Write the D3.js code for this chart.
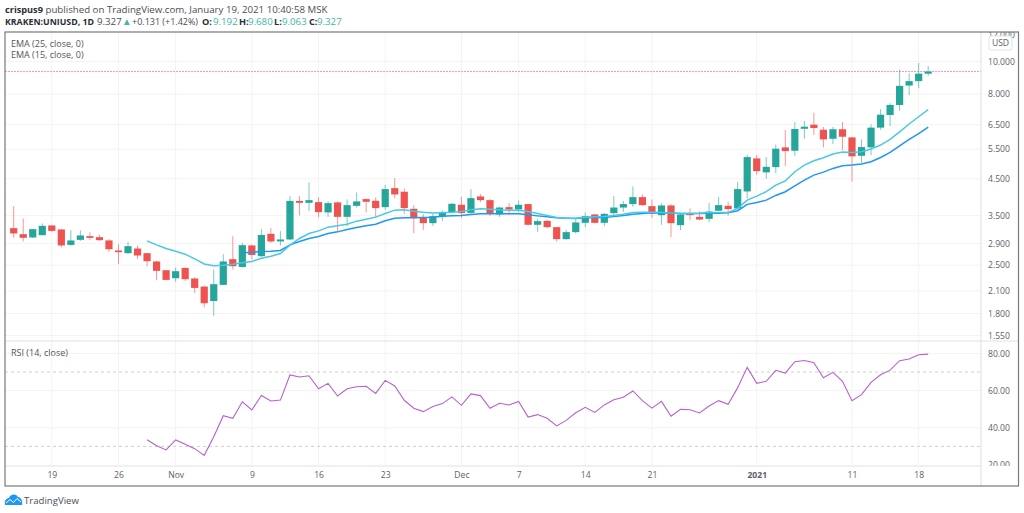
<!DOCTYPE html>
<html>
<head>
<meta charset="utf-8">
<script src="https://cdn.jsdelivr.net/npm/d3@7"></script>
<style>
    html, body { margin: 0; padding: 0; background: #fff; overflow: hidden; }
    svg { display: block; }
    text { font-family: "Open Sans", sans-serif; }
    .axis path { display: none; }
    .axis line { stroke: #e4e4e4; }
    .axis text { fill: #5d606b; font-size: 8.6px; }
    .head { font-size: 9.7px; fill: #4a4e59; }
    .bold { font-weight: 700; fill: #2a2e39; font-size: 9.2px; }
    .up { fill: #45b5aa; }
    .legend { font-size: 9px; fill: #555; }
</style>
</head>
<body>
<script>
const opens = [3.216, 3.087, 3.019, 3.066, 3.275, 3.188, 2.870, 2.970, 3.046, 3.025, 2.958, 2.763, 2.713, 2.800, 2.713, 2.564, 2.416, 2.288, 2.454, 2.284, 2.162, 1.960, 2.187, 2.604, 2.470, 2.859, 2.658, 3.094, 2.938, 2.978, 3.870, 3.820, 3.839, 3.579, 3.831, 3.473, 3.743, 3.918, 3.874, 3.710, 4.222, 4.120, 3.668, 3.459, 3.327, 3.482, 3.586, 3.770, 3.568, 3.990, 3.891, 3.530, 3.710, 3.652, 3.787, 3.290, 3.380, 3.238, 2.984, 3.130, 3.334, 3.530, 3.334, 3.561, 3.700, 3.787, 3.971, 3.735, 3.513, 3.753, 3.282, 3.554, 3.473, 3.426, 3.620, 3.743, 3.678, 4.128, 5.167, 4.700, 4.870, 5.570, 5.443, 6.320, 6.500, 6.280, 5.906, 6.300, 5.960, 5.260, 5.570, 6.370, 6.942, 7.432, 8.480, 8.738, 9.192];
const highs = [3.735, 3.435, 3.200, 3.320, 3.282, 3.194, 3.172, 3.166, 3.130, 3.080, 2.984, 2.884, 2.924, 2.859, 2.718, 2.574, 2.420, 2.460, 2.460, 2.300, 2.171, 2.428, 2.694, 3.046, 2.910, 2.878, 3.194, 3.216, 3.151, 3.998, 3.998, 4.390, 3.963, 3.857, 3.857, 3.910, 4.100, 3.936, 3.963, 4.318, 4.519, 4.213, 3.761, 3.537, 3.554, 3.625, 3.820, 3.980, 4.194, 4.053, 3.918, 3.717, 3.813, 3.883, 3.795, 3.419, 3.396, 3.245, 3.178, 3.419, 3.579, 3.537, 3.561, 4.007, 3.865, 4.270, 4.044, 3.910, 3.805, 3.780, 3.550, 3.678, 3.610, 3.820, 3.971, 3.847, 4.398, 5.300, 5.290, 5.214, 5.680, 6.267, 6.618, 6.664, 7.050, 6.397, 6.397, 6.618, 5.975, 5.880, 6.515, 7.217, 7.520, 9.439, 9.225, 9.880, 9.680];
const lows = [3.010, 2.938, 3.005, 3.060, 3.136, 2.820, 2.850, 2.950, 2.970, 2.950, 2.737, 2.517, 2.700, 2.610, 2.483, 2.257, 2.257, 2.232, 2.247, 2.070, 1.878, 1.770, 2.182, 2.428, 2.460, 2.600, 2.645, 2.910, 2.859, 2.964, 3.506, 3.610, 3.459, 3.473, 3.151, 3.260, 3.700, 3.579, 3.459, 3.642, 3.936, 3.544, 3.108, 3.178, 3.267, 3.380, 3.561, 3.450, 3.544, 3.839, 3.496, 3.473, 3.520, 3.586, 3.282, 3.136, 3.216, 2.938, 2.978, 3.100, 3.238, 3.320, 3.260, 3.506, 3.590, 3.717, 3.740, 3.442, 3.290, 3.025, 3.172, 3.390, 3.390, 3.350, 3.610, 3.496, 3.652, 3.936, 4.625, 4.500, 4.676, 4.904, 5.240, 5.906, 6.057, 5.570, 5.697, 5.468, 4.408, 5.015, 5.285, 6.280, 6.440, 7.150, 7.940, 8.330, 9.063];
const closes = [3.103, 3.011, 3.194, 3.267, 3.157, 2.859, 2.958, 3.060, 3.011, 2.964, 2.788, 2.731, 2.845, 2.670, 2.569, 2.405, 2.262, 2.400, 2.273, 2.142, 1.930, 2.197, 2.564, 2.483, 2.865, 2.680, 3.070, 2.938, 2.978, 3.870, 3.820, 3.891, 3.586, 3.813, 3.473, 3.761, 3.857, 3.847, 3.685, 4.194, 4.044, 3.685, 3.442, 3.327, 3.489, 3.579, 3.795, 3.561, 3.944, 3.891, 3.544, 3.700, 3.652, 3.770, 3.290, 3.373, 3.238, 2.984, 3.130, 3.343, 3.489, 3.334, 3.544, 3.700, 3.787, 3.971, 3.761, 3.554, 3.753, 3.327, 3.530, 3.513, 3.410, 3.600, 3.761, 3.660, 4.194, 5.214, 4.740, 4.880, 5.520, 5.431, 6.310, 6.410, 6.353, 5.880, 6.300, 5.987, 5.240, 5.581, 6.370, 6.955, 7.432, 8.462, 8.738, 9.196, 9.327];

// first value of each study sits on this candle
const ema15Start = 14;
const ema15 = [2.950, 2.870, 2.800, 2.750, 2.694, 2.610, 2.520, 2.490, 2.500, 2.517, 2.540, 2.564, 2.622, 2.658, 2.707, 2.865, 2.998, 3.100, 3.157, 3.238, 3.267, 3.304, 3.373, 3.419, 3.466, 3.554, 3.635, 3.642, 3.610, 3.586, 3.568, 3.579, 3.586, 3.600, 3.642, 3.668, 3.660, 3.642, 3.635, 3.635, 3.600, 3.554, 3.506, 3.459, 3.442, 3.442, 3.466, 3.473, 3.480, 3.506, 3.537, 3.579, 3.586, 3.586, 3.579, 3.568, 3.554, 3.554, 3.561, 3.579, 3.579, 3.579, 3.678, 3.891, 3.998, 4.120, 4.309, 4.437, 4.720, 4.937, 5.085, 5.190, 5.321, 5.394, 5.383, 5.406, 5.506, 5.658, 5.880, 6.190, 6.529, 6.860, 7.200];
const ema25Start = 24;
const ema25 = [2.720, 2.730, 2.744, 2.750, 2.763, 2.870, 2.938, 2.998, 3.040, 3.100, 3.136, 3.188, 3.230, 3.267, 3.304, 3.380, 3.442, 3.450, 3.450, 3.459, 3.466, 3.489, 3.496, 3.506, 3.530, 3.544, 3.544, 3.544, 3.544, 3.544, 3.520, 3.496, 3.473, 3.450, 3.442, 3.435, 3.450, 3.459, 3.459, 3.480, 3.506, 3.537, 3.554, 3.568, 3.568, 3.568, 3.554, 3.554, 3.554, 3.561, 3.561, 3.568, 3.620, 3.780, 3.831, 3.891, 4.017, 4.120, 4.290, 4.458, 4.612, 4.707, 4.827, 4.914, 4.937, 4.971, 5.050, 5.200, 5.383, 5.630, 5.880, 6.120, 6.397];
const rsiStart = 14;
const rsi = [33.6, 30.4, 28.1, 33.5, 31.1, 28.8, 25.2, 35.2, 46.5, 45.1, 54.0, 49.6, 57.4, 54.4, 54.9, 68.4, 67.3, 68.0, 61.0, 63.9, 57.1, 61.0, 62.1, 62.3, 58.5, 65.5, 62.5, 54.8, 50.5, 48.7, 51.4, 53.0, 56.6, 52.1, 58.2, 57.3, 50.5, 53.2, 52.3, 54.2, 45.8, 47.1, 45.1, 41.0, 44.0, 48.1, 51.0, 48.3, 52.3, 55.1, 56.4, 59.8, 54.6, 50.6, 54.2, 46.2, 49.9, 49.7, 48.0, 51.7, 54.6, 52.6, 61.6, 72.5, 63.9, 65.0, 70.9, 69.4, 75.5, 76.2, 75.0, 66.9, 69.8, 65.0, 54.6, 57.8, 64.4, 68.5, 71.0, 76.1, 77.0, 79.3, 79.6];

const priceTicks = [12, 10, 8, 6.5, 5.5, 4.5, 3.5, 2.9, 2.5, 2.1, 1.8, 1.55];
const rsiTicks = [80, 60, 40, 20];
const rsiLevels = [70, 30];
const timeTicks = ["2020-10-19", "2020-10-26", "2020-11-01", "2020-11-09", "2020-11-16", "2020-11-23", "2020-12-01", "2020-12-07", "2020-12-14", "2020-12-21", "2021-01-01", "2021-01-11", "2021-01-18"];
const timeLabels = ["19", "26", "Nov", "9", "16", "23", "Dec", "7", "14", "21", "2021", "11", "18"];
const firstDay = "2020-10-15";
const lastClose = 9.327;

const width = 1024, height = 513;
const frame = { left: 5, top: 32, right: 1018.5, bottom: 486, axis: 981, paneEnd: 340, rsiTop: 342, rsiEnd: 466 };
const upColor = "#26a69a", downColor = "#ef5350";

const day0 = d3.utcParse("%Y-%m-%d")(firstDay);
const dayOf = i => d3.utcDay.offset(day0, i);

const x = d3.scaleUtc().domain([day0, dayOf(96)]).range([13.7, 928.2]);
const y = d3.scaleLog().domain([10, 1.55]).range([61.3, 335.5]);
const yRsi = d3.scaleLinear().domain([80, 20]).range([353.4, 465]);

const svg = d3.select("body").append("svg").attr("width", width).attr("height", height);

function addClip(id, x0, y0, x1, y1) {
    svg.append("clipPath").attr("id", id).append("rect")
        .attr("x", x0).attr("y", y0).attr("width", x1 - x0).attr("height", y1 - y0);
}
addClip("price-clip", frame.left, frame.top, frame.right, frame.paneEnd);
addClip("rsi-clip", frame.left, frame.rsiTop, frame.right, frame.rsiEnd);

drawGrid();
drawCandles();
drawStudies();
drawAxes();
drawFrame();
drawHeader();
drawLogo();

function drawGrid() {
    const grid = svg.append("g").attr("stroke", "#f3f3f3").attr("fill", "none");
    const dates = timeTicks.map(d3.utcParse("%Y-%m-%d"));
    grid.selectAll(".v").data(dates).join("line")
        .attr("x1", d => x(d)).attr("x2", d => x(d))
        .attr("y1", frame.top).attr("y2", frame.rsiEnd);
    grid.selectAll(".h").data(priceTicks.slice(1)).join("line")
        .attr("x1", frame.left).attr("x2", frame.axis)
        .attr("y1", d => y(d)).attr("y2", d => y(d));
    grid.selectAll(".r").data(rsiTicks.slice(0, 3)).join("line")
        .attr("x1", frame.left).attr("x2", frame.axis)
        .attr("y1", d => yRsi(d)).attr("y2", d => yRsi(d));

    // pane separators
    svg.append("rect").attr("x", frame.left).attr("y", frame.paneEnd)
        .attr("width", frame.right - frame.left).attr("height", 2).attr("fill", "#f0f0f0");
    svg.append("rect").attr("x", frame.left).attr("y", frame.rsiEnd - 1)
        .attr("width", frame.axis - frame.left).attr("height", 2).attr("fill", "#f0f0f0");
}

function drawCandles() {
    const candles = d3.range(opens.length);
    const color = i => closes[i] >= opens[i] ? upColor : downColor;
    const g = svg.append("g").attr("clip-path", "url(#price-clip)");

    g.append("line")
        .attr("x1", frame.left).attr("x2", frame.axis)
        .attr("y1", y(lastClose)).attr("y2", y(lastClose))
        .attr("stroke", "#ee9ab4").attr("stroke-dasharray", "2,1");

    g.selectAll(".wick").data(candles).join("line")
        .attr("x1", i => x(dayOf(i))).attr("x2", i => x(dayOf(i)))
        .attr("y1", i => y(highs[i])).attr("y2", i => y(lows[i]))
        .attr("stroke", color).attr("stroke-opacity", 0.6);

    g.selectAll(".body").data(candles).join("rect")
        .attr("x", i => x(dayOf(i)) - 3.6)
        .attr("width", 7.2)
        .attr("y", i => y(Math.max(opens[i], closes[i])))
        .attr("height", i => Math.max(1, Math.abs(y(opens[i]) - y(closes[i]))))
        .attr("fill", color);
}

function drawStudies() {
    const g = svg.append("g").attr("fill", "none");
    const priceLine = (values, start) => d3.line()
        .x((d, i) => x(dayOf(start + i)))
        .y(d => y(d))(values);

    g.append("path").attr("d", priceLine(ema25, ema25Start))
        .attr("stroke", "#2196f3").attr("stroke-width", 1.5);
    g.append("path").attr("d", priceLine(ema15, ema15Start))
        .attr("stroke", "#48c9e4").attr("stroke-width", 1.5);

    const levels = svg.append("g").attr("stroke", "#cfcfcf").attr("stroke-dasharray", "3,3");
    levels.selectAll("line").data(rsiLevels).join("line")
        .attr("x1", frame.left).attr("x2", frame.axis)
        .attr("y1", d => yRsi(d)).attr("y2", d => yRsi(d));

    const rsiLine = d3.line()
        .x((d, i) => x(dayOf(rsiStart + i)))
        .y(d => yRsi(d));
    svg.append("path").attr("d", rsiLine(rsi))
        .attr("fill", "none").attr("stroke", "#b761cc").attr("stroke-width", 1.1);

    svg.append("text").attr("class", "legend").attr("x", 11).attr("y", 46.5).text("EMA (25, close, 0)");
    svg.append("text").attr("class", "legend").attr("x", 11).attr("y", 58).text("EMA (15, close, 0)");
    svg.append("text").attr("class", "legend").attr("x", 11).attr("y", 356).text("RSI (14, close)");
}

function drawAxes() {
    const priceAxis = d3.axisRight(y).tickValues(priceTicks).tickSize(4).tickPadding(3)
        .tickFormat(d3.format(".3f"));
    svg.append("g").attr("class", "axis").attr("clip-path", "url(#price-clip)")
        .attr("transform", `translate(${frame.axis},0)`).call(priceAxis);

    const rsiAxis = d3.axisRight(yRsi).tickValues(rsiTicks).tickSize(4).tickPadding(3)
        .tickFormat(d3.format(".2f"));
    svg.append("g").attr("class", "axis").attr("clip-path", "url(#rsi-clip)")
        .attr("transform", `translate(${frame.axis},0)`).call(rsiAxis);

    const dates = timeTicks.map(d3.utcParse("%Y-%m-%d"));
    const timeAxis = d3.axisBottom(x).tickValues(dates).tickSize(0).tickPadding(6)
        .tickFormat((d, i) => timeLabels[i]);
    const time = svg.append("g").attr("class", "axis")
        .attr("transform", `translate(0,${frame.rsiEnd})`).call(timeAxis);
    time.selectAll("text").filter(d => d.getUTCFullYear() == 2021 && d.getUTCDate() == 1)
        .style("font-weight", 700);

    // currency badge sits over the clipped top label
    svg.append("rect").attr("x", 989).attr("y", 36).attr("width", 23).attr("height", 14).attr("rx", 2)
        .attr("fill", "#fff").attr("stroke", "#e0e3eb");
    svg.append("text").attr("x", 1000.5).attr("y", 46).attr("text-anchor", "middle")
        .attr("font-size", 8.6).attr("fill", "#5d606b").text("USD");
}

function drawFrame() {
    svg.append("line").attr("x1", frame.axis).attr("x2", frame.axis)
        .attr("y1", frame.top).attr("y2", frame.bottom).attr("stroke", "#e0e0e0");
    svg.append("rect").attr("x", frame.left).attr("y", frame.top)
        .attr("width", frame.right - frame.left).attr("height", frame.bottom - frame.top)
        .attr("fill", "none").attr("stroke", "#787878").attr("stroke-width", 1.2);
}

function drawHeader() {
    const title = svg.append("text").attr("class", "head").attr("x", 5).attr("y", 12.5);
    title.append("tspan").attr("class", "bold").text("crispus9");
    title.append("tspan").text(" published on TradingView.com, January 19, 2021 10:40:58 MSK");

    const fitted = { "KRAKEN:UNIUSD, 1D": 89, "+0.131 (+1.42%)": 66 };
    const parts = [
        ["KRAKEN:UNIUSD, 1D", 5, "bold"], ["9.327", 97, ""], ["\u25B2", 122, "up"], ["+0.131 (+1.42%)", 132, ""],
        ["O:", 202, "bold"], ["9.192", 213, "up"], ["H:", 239, "bold"], ["9.680", 248, "up"],
        ["L:", 274, "bold"], ["9.063", 282, "up"], ["C:", 309, "bold"], ["9.327", 317, "up"]
    ];
    svg.selectAll(".part").data(parts).join("text")
        .attr("class", d => "head " + d[2])
        .attr("x", d => d[1]).attr("y", 24.5)
        .attr("textLength", d => fitted[d[0]] || null)
        .attr("lengthAdjust", "spacingAndGlyphs")
        .text(d => d[0]);
}

function drawLogo() {
    svg.append("path")
        .attr("d", "M5 505 C4 500 7 498 9 498 C10 494 16 493 18 497 C21 497 23 501 22 505 Z")
        .attr("fill", "#2196f3");
    svg.append("path")
        .attr("d", "M6 503 L10 499.5 L13.5 502.5 L17 498.5 L21 502")
        .attr("fill", "none").attr("stroke", "#fff").attr("stroke-width", 1);
    svg.append("text").attr("x", 24).attr("y", 503.5)
        .attr("font-size", 9.6).attr("fill", "#4a4e59").text("TradingView");
}
</script>
</body>
</html>
